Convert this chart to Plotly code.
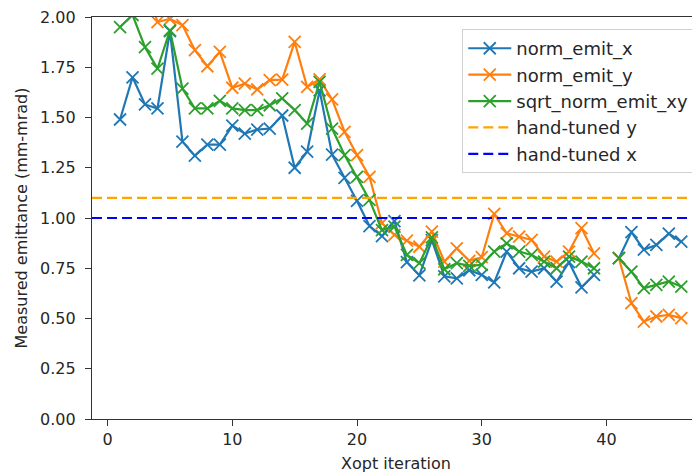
import plotly.graph_objects as go

iterations = list(range(1, 47))

norm_emit_x = [1.49, 1.70, 1.565, 1.545, 1.93, 1.38, 1.31, 1.365, 1.365, 1.46,
               1.42, 1.44, 1.445, 1.51, 1.25, 1.33, 1.635, 1.315, 1.20, 1.085,
               0.96, 0.91, 0.985, 0.78, 0.715, 0.89, 0.71, 0.70, 0.74, 0.717,
               0.68, 0.833, 0.75, 0.733, 0.75, 0.684, 0.78, 0.655, 0.717, None,
               0.80, 0.93, 0.843, 0.866, 0.922, 0.882]

norm_emit_y = [2.53, 2.38, 2.19, 1.975, 1.99, 1.96, 1.835, 1.755, 1.826, 1.648,
               1.668, 1.64, 1.686, 1.688, 1.876, 1.652, 1.69, 1.59, 1.429, 1.313,
               1.205, 0.974, 0.916, 0.887, 0.857, 0.932, 0.783, 0.849, 0.787, 0.805,
               1.02, 0.924, 0.907, 0.891, 0.808, 0.783, 0.833, 0.95, 0.824, None,
               0.80, 0.576, 0.485, 0.51, 0.518, 0.502]

sqrt_norm_emit_xy = [1.95, 2.01, 1.85, 1.743, 1.934, 1.644, 1.545, 1.545, 1.583, 1.545,
                     1.537, 1.537, 1.561, 1.595, 1.537, 1.47, 1.677, 1.445, 1.313, 1.205,
                     1.09, 0.94, 0.957, 0.816, 0.775, 0.904, 0.745, 0.775, 0.762, 0.767,
                     0.833, 0.874, 0.833, 0.816, 0.783, 0.75, 0.808, 0.783, 0.75, None,
                     0.80, 0.733, 0.651, 0.667, 0.684, 0.659]

hand_tuned_y = 1.10
hand_tuned_x = 1.00

x_ticks = [0, 10, 20, 30, 40]
y_ticks = [0.0, 0.25, 0.5, 0.75, 1.0, 1.25, 1.5, 1.75, 2.0]

FONT = "DejaVu Sans"
TXT = "#262626"

series = [
    ("norm_emit_x", norm_emit_x, "#1f77b4"),
    ("norm_emit_y", norm_emit_y, "#ff7f0e"),
    ("sqrt_norm_emit_xy", sqrt_norm_emit_xy, "#2ca02c"),
]

fig = go.Figure()
for i, (name, vals, col) in enumerate(series):
    fig.add_trace(go.Scatter(
        x=iterations, y=vals, name=name, mode="lines+markers",
        connectgaps=False, legendgroup=name, legendrank=1 + i,
        line=dict(color=col, width=2.2),
        marker=dict(symbol="x-thin", size=12, line=dict(color=col, width=1.8), color=col),
    ))

for j, (name, val, col) in enumerate([("hand-tuned y", hand_tuned_y, "#FFA500"),
                                      ("hand-tuned x", hand_tuned_x, "#0000FF")]):
    fig.add_shape(type="line", xref="x domain", x0=0, x1=1, yref="y", y0=val, y1=val,
                  line=dict(color=col, width=2.2, dash="10px,5px"),
                  showlegend=True, name=name, legendgroup=name, legendrank=10 + j)

# page body has an 8px margin, so the figure is 8px smaller and shifted
fig.update_layout(
    width=692, height=465,
    margin=dict(l=84, r=0, t=9, b=54),
    paper_bgcolor="white", plot_bgcolor="white",
    font=dict(family=FONT, size=16, color=TXT),
    showlegend=True,
    legend=dict(
        x=0.609, y=0.97, xanchor="left", yanchor="top",
        bgcolor="rgba(255,255,255,0.85)", bordercolor="#d0d0d0", borderwidth=1,
        font=dict(family=FONT, size=18, color=TXT),
        traceorder="grouped", tracegroupgap=0, itemwidth=43,
    ),
    xaxis=dict(
        range=[-1.25, 47.5], tickvals=x_ticks, ticks="outside", ticklen=6,
        tickcolor="#333", tickwidth=1.2, showgrid=False, zeroline=False,
        showline=True, linecolor="#333", linewidth=1.3, mirror=True,
        automargin=False, ticklabeloverflow="allow",
        title=dict(text="Xopt iteration", standoff=11, font=dict(size=16)),
        tickfont=dict(size=16),
    ),
    yaxis=dict(
        range=[0, 2.0], tickvals=y_ticks, tickformat=".2f", ticks="outside", ticklen=6,
        tickcolor="#333", tickwidth=1.2, showgrid=False, zeroline=False,
        showline=True, linecolor="#333", linewidth=1.3,
        automargin=False, ticklabelstandoff=6, ticklabeloverflow="allow",
        title=dict(text="Measured emittance (mm-mrad)", standoff=8, font=dict(size=16)),
        tickfont=dict(size=16),
    ),
)

fig.write_html("out.html")
